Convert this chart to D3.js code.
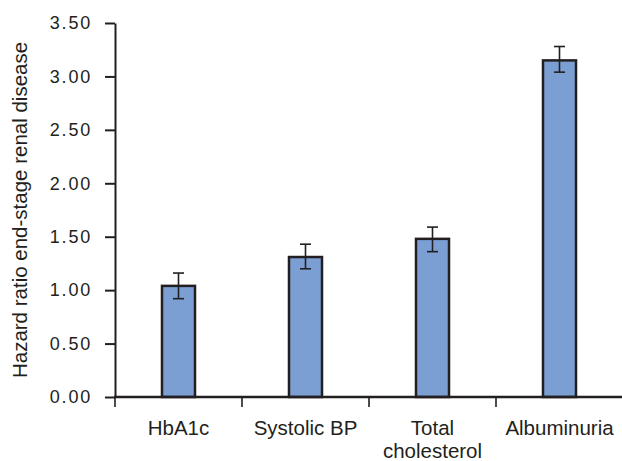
<!DOCTYPE html>
<html>
<head>
<meta charset="utf-8">
<script src="https://cdn.jsdelivr.net/npm/d3@7"></script>
<style>
  html, body { margin: 0; padding: 0; background: #fff; }
  svg { display: block; }
  text { font-family: "Liberation Sans", Arial, Helvetica, sans-serif; fill: #231f20; }
</style>
</head>
<body>
<svg id="chart" width="622" height="461"></svg>
<script>
const categories = ["HbA1c", "Systolic BP", "Total\ncholesterol", "Albuminuria"];
const hazardRatios = [1.04, 1.31, 1.48, 3.15];
const errorLow = [0.92, 1.20, 1.36, 3.04];
const errorHigh = [1.16, 1.43, 1.59, 3.28];
const yTickValues = [0, 0.5, 1.0, 1.5, 2.0, 2.5, 3.0, 3.5];
const yTitle = "Hazard ratio end-stage renal disease";

const svg = d3.select("#chart");
const ink = "#231f20";
const plotLeft = 115, plotRight = 623, plotTop = 23, plotBottom = 397;

const x = d3.scaleBand().domain(categories).range([plotLeft, plotRight])
  .paddingInner(0.74).paddingOuter(0.37);
const y = d3.scaleLinear().domain([0, 3.5]).range([plotBottom, plotTop]);

// Bars
svg.append("g").selectAll("rect").data(categories).join("rect")
  .attr("x", d => x(d))
  .attr("y", (d, i) => y(hazardRatios[i]))
  .attr("width", x.bandwidth())
  .attr("height", (d, i) => y(0) - y(hazardRatios[i]))
  .attr("fill", "#7b9ed3")
  .attr("stroke", ink)
  .attr("stroke-width", 2.5);

// Error bars
const eb = svg.append("g").attr("stroke", ink).attr("stroke-width", 1.6);
categories.forEach((c, i) => {
  const cx = x(c) + x.bandwidth() / 2;
  eb.append("line").attr("x1", cx).attr("x2", cx)
    .attr("y1", y(errorLow[i])).attr("y2", y(errorHigh[i]));
  [errorLow[i], errorHigh[i]].forEach(v => {
    eb.append("line").attr("x1", cx - 5.5).attr("x2", cx + 5.5)
      .attr("y1", y(v)).attr("y2", y(v));
  });
});

// Y axis
const yAxis = svg.append("g").attr("transform", `translate(${plotLeft},0)`)
  .call(d3.axisLeft(y).tickValues(yTickValues).tickFormat(d3.format(".2f"))
    .tickSize(10).tickSizeOuter(0).tickPadding(13));
yAxis.selectAll("path, line").attr("stroke", ink).attr("stroke-width", 2);
yAxis.selectAll("text").attr("font-size", 18).attr("letter-spacing", "1.8px")
  .style("font-family", "'Liberation Sans', Arial, sans-serif").attr("fill", ink);

// X axis (baseline + category boundary ticks)
const xg = svg.append("g");
xg.append("line").attr("x1", plotLeft - 1).attr("x2", 622)
  .attr("y1", plotBottom).attr("y2", plotBottom)
  .attr("stroke", ink).attr("stroke-width", 2.5);
xg.selectAll("line.tick").data(categories).join("line").attr("class", "tick")
  .attr("x1", d => x(d) - x.step() * 0.37).attr("x2", d => x(d) - x.step() * 0.37)
  .attr("y1", plotBottom).attr("y2", plotBottom + 10)
  .attr("stroke", ink).attr("stroke-width", 1.6);

// Category labels
categories.forEach(c => {
  const cx = x(c) + x.bandwidth() / 2;
  const t = xg.append("text").attr("text-anchor", "middle")
    .attr("font-size", 20.5).attr("x", cx).attr("y", 435);
  c.split("\n").forEach((line, j) => {
    t.append("tspan").attr("x", cx).attr("dy", j === 0 ? 0 : 23).text(line);
  });
});

// Y title
svg.append("text")
  .attr("transform", "translate(26.5,210) rotate(-90)")
  .attr("text-anchor", "middle")
  .attr("font-size", 20.5)
  .text(yTitle);
</script>
</body>
</html>
